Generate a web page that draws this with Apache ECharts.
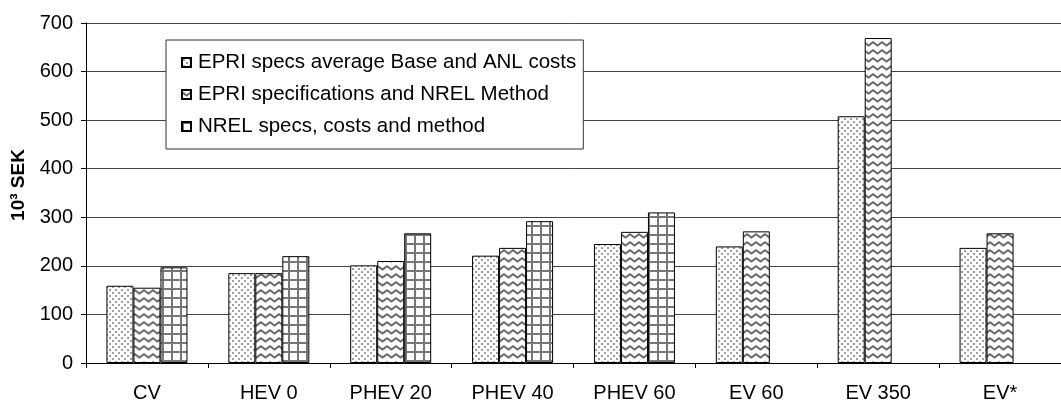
<!DOCTYPE html>
<html>
<head>
<meta charset="utf-8">
<script src="https://cdn.jsdelivr.net/npm/echarts@6/dist/echarts.min.js"></script>
<style>
  html, body { margin: 0; padding: 0; background: #fff; }
  #chart { width: 1061px; height: 403px; }
</style>
</head>
<body>
<div id="chart"></div>
<script>
// Vehicle cost categories and the three cost estimates (thousand SEK)
const categories = ['CV', 'HEV 0', 'PHEV 20', 'PHEV 40', 'PHEV 60', 'EV 60', 'EV 350', 'EV*'];
const seriesNames = [
  'EPRI specs average Base and ANL costs',
  'EPRI specifications and NREL Method',
  'NREL specs, costs and method'
];
const epriAverage = [159, 185, 201, 221, 245, 240, 508, 237];
const epriNrel = [155, 185, 210, 237, 270, 271, 669, 267];
const nrelSpecs = [197, 220, 267, 292, 310, null, null, null];
const yTicks = { min: 0, max: 700, step: 100 };

// Fill patterns for the bars
function makePattern(w, h, draw) {
  const c = document.createElement('canvas');
  c.width = w; c.height = h;
  const ctx = c.getContext('2d');
  ctx.fillStyle = '#fff';
  ctx.fillRect(0, 0, w, h);
  draw(ctx);
  return { image: c, repeat: 'repeat' };
}
const dotted = makePattern(6, 6, ctx => {
  ctx.fillStyle = '#a0a0a0';
  ctx.fillRect(1, 1, 2, 2);
  ctx.fillRect(4, 4, 2, 2);
});
const wavy = makePattern(9, 8, ctx => {
  ctx.strokeStyle = '#6a6a6a';
  ctx.lineWidth = 2;
  ctx.beginPath();
  ctx.moveTo(-1, 1.5);
  ctx.lineTo(4.5, 5.5);
  ctx.lineTo(10, 1.5);
  ctx.stroke();
});
const gridded = makePattern(9, 9, ctx => {
  ctx.fillStyle = '#777';
  ctx.fillRect(0, 0, 9, 2);
  ctx.fillRect(0, 0, 2, 9);
});
const fills = [dotted, wavy, gridded];
const values = [epriAverage, epriNrel, nrelSpecs];

const font = 'Liberation Sans, Arial, sans-serif';
const chart = echarts.init(document.getElementById('chart'));
chart.setOption({
  animation: false,
  backgroundColor: '#fff',
  textStyle: { fontFamily: font },
  grid: { left: 86, right: -12, top: 23, bottom: 38 },
  legend: {
    orient: 'vertical',
    left: 166,
    top: 40,
    padding: [12, 7, 12, 15],
    itemGap: 11,
    itemWidth: 9,
    itemHeight: 9,
    icon: 'rect',
    backgroundColor: '#fff',
    borderColor: '#333',
    borderWidth: 1,
    borderRadius: 0,
    textStyle: { fontSize: 20.5, color: '#000', fontFamily: font, padding: [0, 0, 0, 2] },
    data: seriesNames
  },
  xAxis: {
    type: 'category',
    data: categories,
    axisLine: { lineStyle: { color: '#000', width: 1 } },
    axisTick: { show: true, length: 5, lineStyle: { color: '#000' } },
    axisLabel: { fontSize: 20, color: '#000', margin: 20, fontFamily: font },
    splitLine: { show: false }
  },
  yAxis: {
    type: 'value',
    min: yTicks.min,
    max: yTicks.max,
    interval: yTicks.step,
    name: '10³ SEK',
    nameLocation: 'middle',
    nameGap: 56,
    nameTextStyle: {
      fontSize: 19, fontWeight: 'bold', color: '#000', fontFamily: font,
      padding: [0, 0, 0, 16]
    },
    axisLine: { show: true, lineStyle: { color: '#000', width: 1 } },
    axisTick: { show: true, length: 5, lineStyle: { color: '#000' } },
    axisLabel: { fontSize: 20, color: '#000', margin: 13, fontFamily: font },
    splitLine: { show: true, lineStyle: { color: '#444', width: 1 } }
  },
  series: seriesNames.map((name, i) => ({
    name: name,
    type: 'bar',
    data: values[i],
    barWidth: 27,
    barGap: '0%',
    itemStyle: { color: fills[i], borderColor: '#000', borderWidth: 1 }
  }))
});
</script>
</body>
</html>
